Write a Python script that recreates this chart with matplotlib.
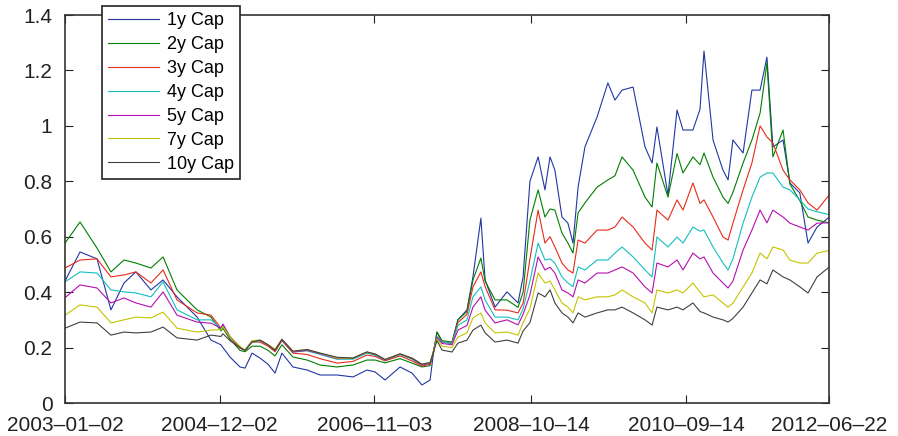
import matplotlib
matplotlib.use('Agg')
import matplotlib.pyplot as plt
import pandas as pd

# -----------------------------------------------------
# data
# -----------------------------------------------------

dates = [
    '2003-01-02', '2003-03-11', '2003-05-27', '2003-07-29', '2003-09-26', '2003-11-19',
    '2004-01-26', '2004-03-21', '2004-05-23', '2004-08-22', '2004-10-24', '2004-12-08', '2004-12-17',
    '2005-01-18', '2005-03-04', '2005-03-27', '2005-04-28', '2005-06-03', '2005-07-09', '2005-08-10',
    '2005-09-10', '2005-10-30',
    '2006-01-02', '2006-03-02', '2006-05-18', '2006-07-29', '2006-09-30', '2006-11-06', '2006-12-21',
    '2007-02-27', '2007-04-22', '2007-06-06', '2007-07-13', '2007-07-26', '2007-08-13', '2007-09-05',
    '2007-10-20', '2007-11-16', '2007-12-27',
    '2008-01-23', '2008-02-28', '2008-03-18', '2008-05-02', '2008-06-25', '2008-08-14', '2008-09-06',
    '2008-10-07', '2008-11-13', '2008-12-14',
    '2009-01-06', '2009-01-28', '2009-03-01', '2009-03-28', '2009-04-20', '2009-05-13', '2009-06-13',
    '2009-08-07', '2009-09-25', '2009-10-27', '2009-11-28',
    '2010-01-17', '2010-03-12', '2010-04-13', '2010-05-05', '2010-06-24', '2010-08-04', '2010-08-31',
    '2010-10-15', '2010-11-16', '2010-12-04',
    '2011-01-14', '2011-02-28', '2011-03-23', '2011-04-14', '2011-05-30', '2011-07-09', '2011-08-15',
    '2011-09-15', '2011-10-12', '2011-11-27', '2011-12-28',
    '2012-02-11', '2012-03-19', '2012-04-29', '2012-06-22',
]

cap_1y = [
    .44, .545, .52, .336, .433, .473,
    .408, .444, .383, .31, .227, .21, .20,
    .166, .13, .126, .18, .162, .14, .108, .18, .13,
    .119, .101, .101, .094, .119, .112, .083,
    .13, .108, .065, .083, .166, .256, .22, .216, .30, .336,
    .455, .667, .444, .346, .401, .361, .455, .80, .888, .769,
    .888, .84, .671, .649, .577, .779, .924, 1.032, 1.155, 1.093, 1.129,
    1.14, .924, .866, .996, .75, 1.057, .985, .985, 1.06, 1.27,
    .949, .84, .805, .949, .902, 1.129, 1.129, 1.248, .924, .949, .794,
    .758, .577, .635, .67,
]

cap_2y = [
    .577, .653, .559, .473, .516, .505,
    .487, .527, .408, .336, .31, .26, .27,
    .23, .19, .185, .205, .205, .19, .17, .21, .166,
    .155, .137, .13, .137, .155, .155, .145,
    .16, .144, .13, .135, .175, .256, .225, .22, .30, .33,
    .444, .523, .44, .372, .372, .345, .40, .66, .769, .671,
    .70, .696, .613, .577, .541, .686, .722, .779, .805, .82, .888,
    .84, .743, .707, .866, .743, .90, .83, .888, .86, .902,
    .815, .743, .72, .76, .866, .949, 1.046, 1.227, .888, .985, .79,
    .73, .671, .66, .65,
]

cap_3y = [
    .487, .516, .52, .455, .462, .473,
    .433, .48, .372, .325, .317, .27, .28,
    .238, .198, .19, .22, .22, .205, .185, .225, .18,
    .175, .16, .144, .15, .173, .168, .152,
    .17, .152, .133, .14, .178, .24, .22, .216, .29, .32,
    .419, .473, .42, .336, .335, .325, .36, .52, .696, .577,
    .60, .563, .505, .48, .469, .588, .577, .624, .624, .635, .671,
    .635, .577, .552, .696, .66, .733, .696, .794, .72, .733,
    .671, .599, .588, .649, .769, .866, 1.0, .96, .938, .84, .805,
    .769, .722, .696, .75,
]

cap_4y = [
    .437, .473, .469, .408, .401, .397,
    .383, .437, .336, .30, .30, .27, .28,
    .24, .20, .19, .22, .225, .21, .19, .227, .184,
    .188, .175, .158, .158, .18, .172, .155,
    .175, .158, .137, .144, .18, .238, .22, .215, .28, .30,
    .383, .419, .372, .31, .31, .30, .34, .44, .577, .516,
    .52, .505, .455, .433, .42, .491, .48, .516, .516, .541, .563,
    .527, .48, .455, .599, .563, .599, .577, .635, .62, .624,
    .563, .505, .48, .52, .649, .743, .815, .83, .83, .779, .769,
    .733, .70, .69, .68,
]

cap_5y = [
    .38, .426, .415, .361, .379, .361,
    .346, .401, .317, .292, .288, .27, .285,
    .24, .20, .19, .225, .225, .21, .19, .227, .184,
    .19, .178, .16, .162, .184, .175, .155,
    .177, .16, .137, .144, .18, .235, .215, .21, .263, .28,
    .346, .383, .335, .289, .30, .282, .32, .39, .527, .48,
    .49, .469, .408, .397, .383, .444, .433, .469, .469, .48, .491,
    .469, .419, .397, .505, .491, .516, .48, .541, .52, .527,
    .469, .433, .415, .44, .552, .624, .696, .65, .696, .671, .649,
    .635, .624, .649, .65,
]

cap_7y = [
    .317, .354, .346, .289, .30, .31,
    .307, .328, .27, .256, .263, .265, .275,
    .24, .205, .19, .225, .227, .21, .195, .23, .187,
    .193, .18, .162, .162, .184, .177, .157,
    .177, .162, .14, .146, .18, .23, .205, .20, .238, .253,
    .307, .325, .289, .253, .256, .245, .29, .34, .469, .433,
    .44, .408, .361, .346, .325, .383, .372, .383, .383, .39, .408,
    .383, .361, .325, .408, .397, .408, .397, .433, .40, .383,
    .39, .361, .346, .36, .419, .469, .541, .52, .563, .552, .516,
    .505, .505, .541, .55,
]

cap_10y = [
    .27, .292, .289, .245, .256, .253,
    .256, .274, .235, .227, .245, .24, .25,
    .225, .20, .19, .22, .227, .21, .19, .23, .187,
    .193, .18, .165, .162, .184, .177, .157,
    .177, .162, .14, .146, .178, .225, .191, .184, .216, .227,
    .263, .281, .253, .22, .227, .216, .26, .29, .397, .383,
    .408, .361, .325, .31, .289, .325, .31, .325, .336, .336, .346,
    .325, .30, .281, .346, .336, .346, .336, .361, .33, .325,
    .31, .30, .292, .305, .346, .397, .444, .43, .48, .455, .444,
    .419, .397, .455, .49,
]

labels = ['1y Cap', '2y Cap', '3y Cap', '4y Cap', '5y Cap', '7y Cap', '10y Cap']
tick_dates = ['2003-01-02', '2004-12-02', '2006-11-03', '2008-10-14', '2010-09-14', '2012-06-22']
y_ticks = [0, 0.2, 0.4, 0.6, 0.8, 1, 1.2, 1.4]

# -----------------------------------------------------
# plot
# -----------------------------------------------------

plt.rcParams['font.family'] = ['Liberation Sans', 'DejaVu Sans']

colors = ['#2236a4', '#007f00', '#e82a1a', '#14bfbf', '#b40fb0', '#c4c400', '#404040']
series = [cap_1y, cap_2y, cap_3y, cap_4y, cap_5y, cap_7y, cap_10y]

x = pd.to_datetime(dates)

fig = plt.figure(figsize=(8.98, 4.36), dpi=100)
ax = fig.add_axes([65 / 898, 33 / 436, 764 / 898, 388 / 436])

for vals, col, lab in zip(series, colors, labels):
    ax.plot(x, vals, color=col, lw=0.8, label=lab)

ax.set_xlim(pd.Timestamp(tick_dates[0]), pd.Timestamp(tick_dates[-1]))
ax.set_ylim(0, 1.4)
ax.set_xticks(pd.to_datetime(tick_dates))
ax.set_xticklabels([d.replace('-', '\u2013') for d in tick_dates])
ax.set_yticks(y_ticks)
ax.set_yticklabels(['0', '0.2', '0.4', '0.6', '0.8', '1', '1.2', '1.4'])

ax.tick_params(direction='in', length=6, width=0.8, top=True, right=True,
               labelsize=15, colors='#222222')
ax.tick_params(axis='x', pad=9)
ax.tick_params(axis='y', pad=9)
for s in ax.spines.values():
    s.set_linewidth(1.2)
    s.set_color('#333333')

leg = ax.legend(loc='upper left', bbox_to_anchor=(0.048, 1.023), borderaxespad=0,
                fontsize=13, frameon=True, fancybox=False, framealpha=1,
                edgecolor='#222222', handlelength=2.8, labelspacing=0.38,
                borderpad=0.35, handletextpad=0.45)
leg.get_frame().set_linewidth(1.2)
leg.set_zorder(5)

plt.savefig('out.png', dpi=100)
plt.close()
